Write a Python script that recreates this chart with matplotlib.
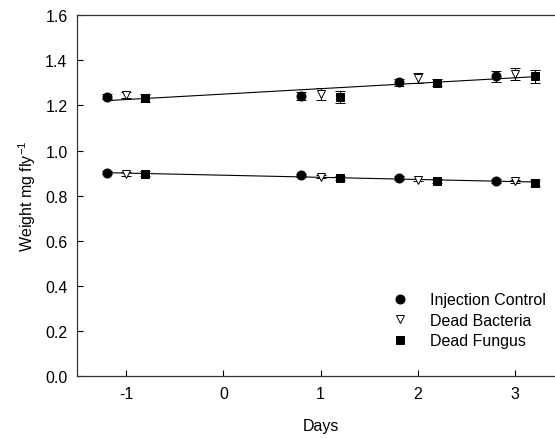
import numpy as np
import matplotlib.pyplot as plt
from matplotlib.lines import Line2D

plt.rcParams['font.family'] = ['Liberation Sans', 'DejaVu Sans']
plt.rcParams['axes.unicode_minus'] = False

# weights (mg per fly) for each treatment, sampled at days -1, 1, 2 and 3
days = [-1, 1, 2, 3]
offsets = {'Injection Control': -0.2, 'Dead Bacteria': 0.0, 'Dead Fungus': 0.2}

ic_high = [1.238, 1.240, 1.302, 1.329]
ic_high_err = [0.012, 0.018, 0.015, 0.025]
db_high = [1.245, 1.250, 1.320, 1.338]
db_high_err = [0.012, 0.028, 0.022, 0.026]
df_high = [1.232, 1.237, 1.300, 1.328]
df_high_err = [0.018, 0.025, 0.016, 0.028]

ic_low = [0.902, 0.890, 0.879, 0.866]
ic_low_err = [0.008, 0.008, 0.008, 0.008]
db_low = [0.896, 0.884, 0.870, 0.864]
db_low_err = [0.008, 0.006, 0.006, 0.006]
df_low = [0.898, 0.878, 0.866, 0.856]
df_low_err = [0.010, 0.008, 0.008, 0.012]

series = [
    ('Injection Control', 'o', 'black', ic_high, ic_high_err, ic_low, ic_low_err),
    ('Dead Bacteria', 'v', 'white', db_high, db_high_err, db_low, db_low_err),
    ('Dead Fungus', 's', 'black', df_high, df_high_err, df_low, df_low_err),
]
sizes = {'o': 6.5, 'v': 6, 's': 6}

fig = plt.figure(figsize=(5.55, 4.39), dpi=100)
ax = fig.add_axes([0.1393, 0.1401, 0.877, 0.8235])

all_x, all_hi, all_lo = [], [], []
for name, mk, fc, hi, hi_e, lo, lo_e in series:
    x = np.array(days) + offsets[name]
    for y, e in ((hi, hi_e), (lo, lo_e)):
        ax.errorbar(x, y, yerr=e, fmt=mk, mfc=fc, mec='black', color='black',
                    ms=sizes[mk], mew=0.7, elinewidth=0.8,
                    capsize=3.5, capthick=0.8, zorder=3)
    all_x += list(x)
    all_hi += hi
    all_lo += lo

# straight-line fit through each group
all_x = np.array(all_x)
xs = np.array([all_x.min(), all_x.max()])
for ys in (all_hi, all_lo):
    k, b = np.polyfit(all_x, ys, 1)
    ax.plot(xs, k * xs + b, color='black', lw=0.8, zorder=2)

ax.set_xlim(-1.5, 3.5)
ax.set_ylim(0, 1.6)
ax.set_xticks([-1, 0, 1, 2, 3])
ax.set_yticks(np.arange(0, 1.61, 0.2))
ax.yaxis.set_major_formatter(plt.FormatStrFormatter('%.1f'))
ax.tick_params(direction='in', length=4, width=0.8, labelsize=11.5, pad=7)
for s in ax.spines.values():
    s.set_linewidth(0.9)
    s.set_color('#333333')

ax.set_xlabel('Days', fontsize=11.5, labelpad=12)
ax.set_ylabel('Weight mg fly$^{\\mathregular{-1}}$', fontsize=11.5, labelpad=5)

handles = [Line2D([], [], ls='none', marker=mk, mfc=fc, mec='black', color='black',
                  ms=sizes[mk], mew=0.7)
           for name, mk, fc, *_ in series]
ax.legend(handles, [s[0] for s in series], loc='lower left',
          bbox_to_anchor=(0.618, 0.038), frameon=False, fontsize=11.5,
          handlelength=1.0, handletextpad=1.35, labelspacing=0.35)

fig.savefig('out.png', dpi=100)
